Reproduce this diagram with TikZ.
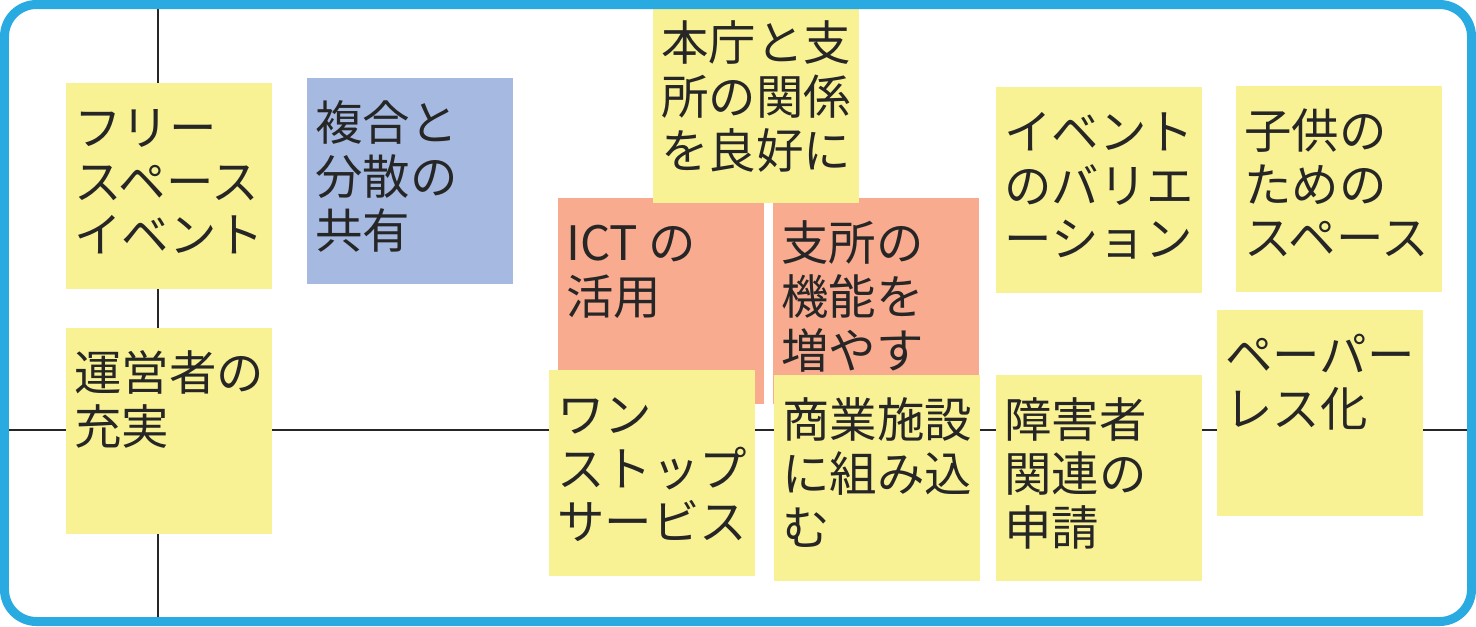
\documentclass[tikz,border=0pt]{standalone}
\usepackage{fontspec}
\newfontfamily\jpfont{Noto Sans CJK JP}
\definecolor{memoY}{HTML}{F9F295}
\definecolor{memoR}{HTML}{F8AB8F}
\definecolor{memoB}{HTML}{A6BAE1}
\definecolor{frameC}{HTML}{29ABE2}
\definecolor{inkC}{HTML}{262626}
\newcommand{\memo}[2][3.16cm]{\parbox[t][#1][t]{3.78cm}{\raggedright\leavevmode\vphantom{本}#2}}
\tikzstyle{mS}=[anchor=north west,inner xsep=0.17cm,inner ysep=0.46cm,outer sep=0pt,text=inkC,font=\jpfont\fontsize{27pt}{30.5pt}\selectfont,align=left]
\tikzstyle{mY}=[mS,fill=memoY]
\tikzstyle{mR}=[mS,fill=memoR]
\tikzstyle{mB}=[mS,fill=memoB]
\tikzstyle{aX}=[line width=0.046cm,draw=inkC]
\tikzstyle{fR}=[line width=0.18cm,draw=frameC,rounded corners=0.64cm]
\begin{document}
\begin{tikzpicture}[x=0.02cm,y=-0.02cm]
                \useasboundingbox (0,0) rectangle (1476,626);
                % axes
                \coordinate (vt) at (158,0);
                \coordinate (vb) at (158,626);
                \coordinate (hl) at (0,430);
                \coordinate (hr) at (1476,430);
                \draw[aX] (vt) -- (vb);
                \draw[aX] (hl) -- (hr);
                % sticky notes
                \draw (66,83) node[mY] (free) {\memo[3.2cm]{フリー\\スペース\\イベント}};
                \draw (307,78) node[mB] (share) {\memo[3.2cm]{複合と\\分散の\\共有}};
                \draw (558,198) node[mR] (ict) {\memo[3.2cm]{ICT の\\活用}};
                \draw (773,198) node[mR] (func) {\memo[3.2cm]{支所の\\機能を\\増やす}};
                \draw (653,9) node[mY,inner ysep=0.24cm] (rel) {\memo[3.4cm]{本庁と支\\所の関係\\を良好に}};
                \draw (996,87) node[mY] (evt) {\memo[3.2cm]{イベント\\のバリエ\\ーション}};
                \draw (1236,86) node[mY] (kids) {\memo[3.2cm]{子供の\\ための\\スペース}};
                \draw (66,328) node[mY] (staff) {\memo[3.2cm]{運営者の\\充実}};
                \draw (549,370) node[mY] (one) {\memo[3.2cm]{ワン\\ストップ\\サービス}};
                \draw (774,375) node[mY] (shop) {\memo[3.2cm]{商業施設\\に組み込\\む}};
                \draw (996,375) node[mY] (appl) {\memo[3.2cm]{障害者\\関連の\\申請}};
                \draw (1217,310) node[mY] (paper) {\memo[3.2cm]{ペーパー\\レス化}};
                % frame
                \draw[fR] (4.5,4.5) rectangle (1471.5,621.5);
        \end{tikzpicture}
\end{document}
